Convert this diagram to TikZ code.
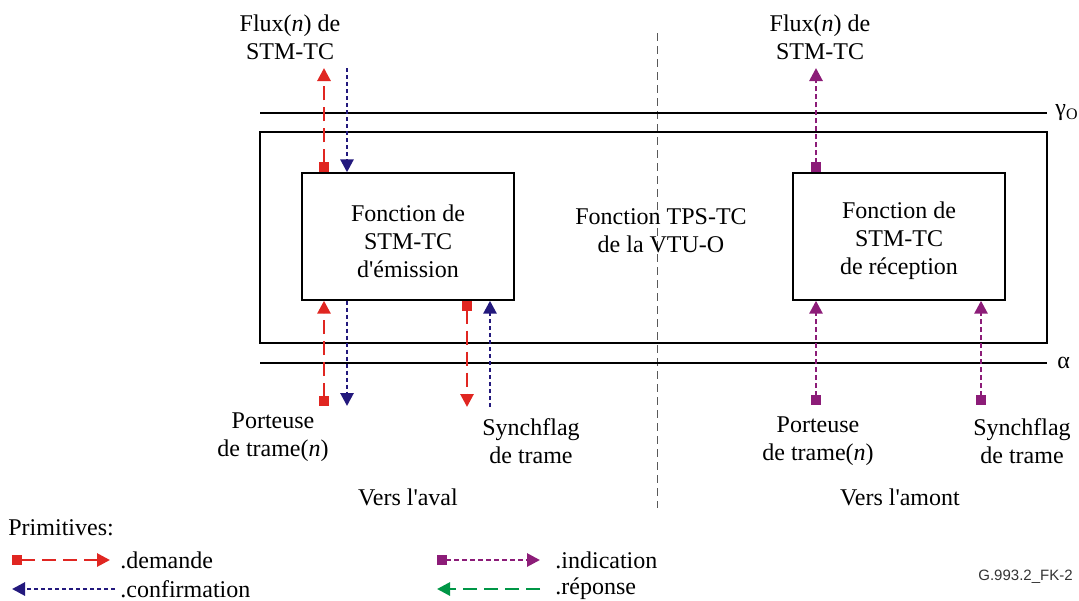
\documentclass[tikz,border=0pt]{standalone}
\usepackage{fontspec}
\setmainfont{Liberation Serif}
\newfontfamily\figsans{Liberation Sans}
\usetikzlibrary{arrows.meta,positioning}
\definecolor{reqred}{RGB}{224,38,33}
\definecolor{cnfblue}{RGB}{35,25,125}
\definecolor{indpurple}{RGB}{140,28,120}
\definecolor{rspgreen}{RGB}{0,150,70}
\newcommand{\apos}{\textquotesingle}
\tikzset{
  txt/.style={align=center, inner sep=0pt, font=\fontsize{12}{14}\selectfont},
  fnbox/.style={draw, line width=0.7pt, minimum width=106pt, minimum height=63.5pt, inner sep=0pt},
  refline/.style={line width=0.7pt},
  sqtip/.tip={Square[length=5.2pt,width=5.2pt]},
  tritip/.tip={Triangle[length=6.5pt,width=6.5pt]},
  req/.style={reqred, line width=1.4pt, dash pattern=on 7pt off 3.5pt, sqtip-tritip},
  cnf/.style={cnfblue, line width=1.4pt, dash pattern=on 2pt off 1.5pt, -tritip},
  ind/.style={indpurple, line width=1.4pt, dash pattern=on 2.5pt off 1.5pt, sqtip-tritip},
  rsp/.style={rspgreen, line width=1.4pt, dash pattern=on 7pt off 3.5pt, -tritip}
}

\begin{document}
\begin{tikzpicture}[x=0.5pt, y=-0.5pt]
\useasboundingbox (0,0) rectangle (1079,600);
% separation aval / amont
\coordinate (sepT) at (657,33);
\coordinate (sepB) at (657,508);
\draw[gray!70!black, line width=0.5pt, dash pattern=on 4pt off 2.5pt] (sepT) -- (sepB);
% reference points
\coordinate (gamL) at (260,113);
\coordinate (gamR) at (1047,113);
\coordinate (alpL) at (260,363);
\coordinate (alpR) at (1047,363);
\draw[refline] (gamL) -- (gamR);
\draw[refline] (alpL) -- (alpR);
\node[txt, anchor=west] (gam) at ([xshift=4pt]gamR) {γ\raisebox{-0.35ex}{\fontsize{8}{8}\selectfont O}};
\node[txt, anchor=west] (alp) at ([xshift=5pt]alpR) {α};
% TPS-TC
\node[draw, line width=0.7pt, minimum width=393.5pt, minimum height=105.5pt, inner sep=0pt] (tps) at (653.5,237.5) {};
\node[txt] (tpstxt) at (661,231) {Fonction TPS-TC\\de la VTU-O};
\node[fnbox] (emis) at (408,236.5) {};
\node[fnbox] (recp) at (899,236.5) {};
\node[txt] (emistxt) at (408,241) {Fonction de\\STM-TC\\d\apos émission};
\node[txt] (recptxt) at (899,241) {Fonction de\\STM-TC\\de réception};
% labels
\node[txt] (fluxL) at (290,37) {Flux(\textit{n}) de\\STM-TC};
\node[txt] (fluxR) at (820,37) {Flux(\textit{n}) de\\STM-TC};
\node[txt] (portL) at (273,437) {Porteuse\\de trame(\textit{n})};
\node[txt] (syncL) at (531,441) {Synchflag\\de trame};
\node[txt] (portR) at (818,441) {Porteuse\\de trame(\textit{n})};
\node[txt] (syncR) at (1022,441) {Synchflag\\de trame};
\node[txt] (aval) at (408,497) {Vers l\apos aval};
\node[txt] (amont) at (900,497) {Vers l\apos amont};
% free ends
\coordinate (fxA) at (324,68);
\coordinate (fxB) at (347,68);
\coordinate (ptA) at (324,406);
\coordinate (ptB) at (347,406);
\coordinate (syA) at (467,407);
\coordinate (syB) at (490,407);
\coordinate (fxC) at (816,68);
\coordinate (ptC) at (816,405);
\coordinate (syC) at (981,405);
% emission
\draw[req] (emis.north -| fxA) -- (fxA);
\draw[cnf] (fxB) -- (emis.north -| fxB);
\draw[req] (ptA) -- (emis.south -| ptA);
\draw[cnf] (emis.south -| ptB) -- (ptB);
\draw[req] (emis.south -| syA) -- (syA);
\draw[cnf] (syB) -- (emis.south -| syB);
% reception
\draw[ind] (recp.north -| fxC) -- (fxC);
\draw[ind] (ptC) -- (recp.south -| ptC);
\draw[ind] (syC) -- (recp.south -| syC);
% legend
\node[txt, anchor=west] (prim) at (8,528) {Primitives:};
\coordinate (dmS) at (12,560);
\coordinate (dmE) at (110,560);
\coordinate (cfS) at (115,589);
\coordinate (cfE) at (12,589);
\coordinate (inS) at (437,560);
\coordinate (inE) at (540,560);
\coordinate (rpS) at (540,589);
\coordinate (rpE) at (437,589);
\draw[req] (dmS) -- (dmE);
\draw[cnf] (cfS) -- (cfE);
\draw[ind] (inS) -- (inE);
\draw[rsp] (rpS) -- (rpE);
\node[txt, anchor=west] (dem) at (120,560) {.demande};
\node[txt, anchor=west] (cnfm) at (120,589) {.confirmation};
\node[txt, anchor=west] (indc) at (555,560) {.indication};
\node[txt, anchor=west] (repn) at (555,589) {.réponse};
\node[inner sep=0pt, anchor=east, font=\figsans\fontsize{7.5}{9}\selectfont, text=black!80] (figid) at (1073,577) {G.993.2\_FK-2};
\end{tikzpicture}
\end{document}
